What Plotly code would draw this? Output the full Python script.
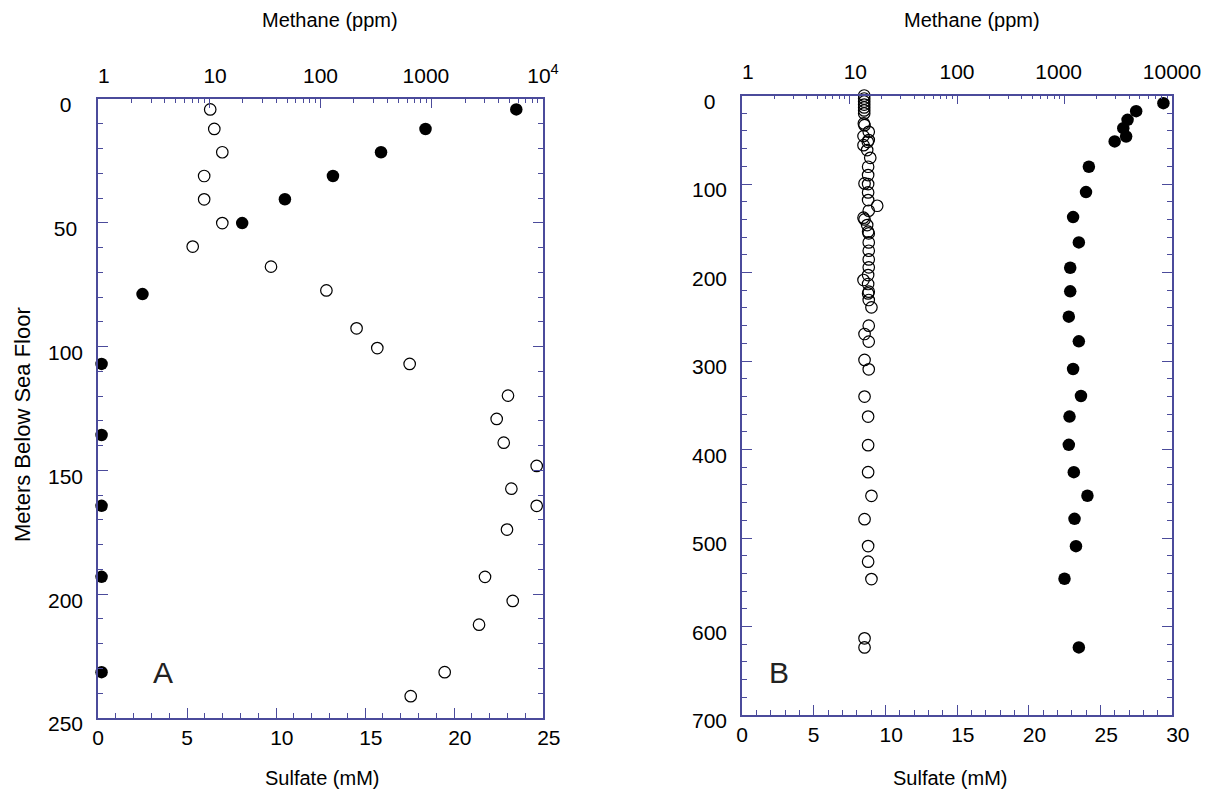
import plotly.graph_objects as go

# ---------------- Data: Panel A ----------------
a_sulfate_depth = [4.2, 12.1, 21.5, 31.1, 40.5, 50.1, 78.8, 107.0, 135.7, 164.3, 193.0, 231.5]
a_sulfate = [23.5, 18.4, 15.9, 13.2, 10.5, 8.1, 2.5, 0.2, 0.2, 0.2, 0.2, 0.2]

a_methane_depth = [4.2, 12.1, 21.5, 31.1, 40.5, 50.1, 59.6, 67.7, 77.3, 92.6, 100.6, 107.0,
                   119.8, 129.2, 138.8, 148.2, 157.4, 164.3, 173.9, 193.0, 202.7, 212.3, 231.5, 241.2]
a_methane = [10.2, 11.1, 13.1, 9.0, 9.0, 13.1, 7.1, 35.9, 113, 211, 324, 633,
             4845, 3834, 4436, 8776, 5196, 8776, 4746, 3011, 5346, 2661, 1307, 647]

# ---------------- Data: Panel B ----------------
b_sulfate_depth = [8.7, 17.7, 27.5, 36.9, 46.3, 51.9, 80.5, 109.1, 137.4, 166.0, 194.6, 221.3,
                   249.9, 277.8, 309.0, 339.5, 362.8, 394.7, 425.6, 452.3, 478.3, 509.2, 546.0, 623.6]
b_sulfate = [29.4, 27.5, 26.9, 26.6, 26.8, 26.0, 24.2, 24.0, 23.1, 23.5, 22.9, 22.9,
             22.8, 23.5, 23.1, 23.65, 22.85, 22.8, 23.15, 24.1, 23.2, 23.3, 22.5, 23.5]

b_methane_depth = [0.0, 3.4, 6.8, 10.2, 13.5, 16.9, 20.3, 31.6, 33.5, 41.0, 45.9, 50.4, 52.3,
                   56.1, 61.7, 70.4, 80.5, 89.9, 99.4, 100.1, 109.5, 118.2, 124.6, 130.2, 138.1,
                   140.0, 146.4, 153.9, 155.8, 166.0, 175.4, 185.2, 194.2, 202.9, 208.5, 213.0,
                   221.7, 223.6, 231.1, 239.4, 260.1, 269.5, 278.1, 298.8, 309.4, 340.2, 362.8,
                   395.1, 425.6, 452.3, 478.7, 509.1, 526.8, 546.4, 613.4, 623.6]
b_methane = [13.7, 13.7, 13.7, 13.7, 13.7, 13.7, 13.7, 13.6, 13.8, 15.1, 13.5, 15.1, 14.8,
             13.5, 14.6, 15.6, 14.9, 14.9, 13.8, 14.9, 14.9, 14.9, 18.1, 15.1, 13.5,
             13.8, 14.6, 14.9, 15.1, 15.1, 15.1, 15.1, 15.1, 14.9, 13.5, 14.9,
             15.1, 14.9, 15.1, 16.0, 15.1, 13.8, 15.1, 13.8, 15.1, 13.8, 14.9,
             14.9, 14.9, 16.0, 13.8, 14.9, 14.9, 16.0, 13.8, 13.8]

# ---------------- Tick labels ----------------
FS = "\u2007"   # figure space (digit width), used only to nudge label alignment
HS = "\u2008"   # punctuation space (about half a digit)
log_major = [1, 10, 100, 1000, 10000]
a_log_text = [FS + "1", FS + "10", "100", "1000" + FS, "10<sup>4</sup>"]
b_log_text = [FS + "1", FS + "10", "100", "1000" + FS, "10000"]
log_minor = [m * 10 ** e for e in range(4) for m in range(2, 10)]

a_sulf_ticks = [0, 5, 10, 15, 20, 25]
b_sulf_ticks = [0, 5, 10, 15, 20, 25, 30]
a_depth_ticks = [0, 50, 100, 150, 200, 250]
b_depth_ticks = [0, 100, 200, 300, 400, 500, 600, 700]


def sulf_text(v):
    return FS + str(v) if v >= 10 else str(v)


def depth_text(v):
    s = str(v)
    return s + {1: FS, 2: HS, 3: ""}[len(s)]


# ---------------- Styling / layout ----------------
PAGE_W, PAGE_H = 1226, 798
BODY = 8                      # default page margin around the plot div
W, H = PAGE_W - 2 * BODY, PAGE_H - 2 * BODY
AX = "#4b4b9b"
FONT = "Liberation Sans, Arial, Helvetica, sans-serif"
TICKFONT = dict(family=FONT, size=21, color="black")
TITLEFONT = dict(family=FONT, size=20, color="black")


def px_x(p):
    return (p - BODY) / W


def px_y(p):
    return 1 - (p - BODY) / H


A_X = [px_x(98), px_x(543)]
A_Y = [px_y(718), px_y(99)]
B_X = [px_x(742), px_x(1172)]
B_Y = [px_y(715), px_y(95.5)]

fig = go.Figure()

filled = dict(symbol="circle", size=12.5, color="black")
opened = dict(symbol="circle-open", size=11.5, color="black", line=dict(width=1.2, color="black"))

fig.add_trace(go.Scatter(x=a_sulfate, y=a_sulfate_depth, mode="markers", marker=filled,
                         xaxis="x", yaxis="y", cliponaxis=False, name="Sulfate A"))
fig.add_trace(go.Scatter(x=a_methane, y=a_methane_depth, mode="markers", marker=opened,
                         xaxis="x3", yaxis="y", cliponaxis=False, name="Methane A"))
fig.add_trace(go.Scatter(x=b_sulfate, y=b_sulfate_depth, mode="markers", marker=filled,
                         xaxis="x2", yaxis="y2", cliponaxis=False, name="Sulfate B"))
fig.add_trace(go.Scatter(x=b_methane, y=b_methane_depth, mode="markers", marker=opened,
                         xaxis="x4", yaxis="y2", cliponaxis=False, name="Methane B"))

common = dict(showline=True, linecolor=AX, linewidth=1.5, showgrid=False, zeroline=False,
              ticks="inside", tickcolor=AX, tickwidth=1.2, tickfont=TICKFONT, automargin=False)


def lin_x(domain, rng, anchor, ticks, minor):
    return dict(domain=domain, range=rng, anchor=anchor, side="bottom",
                tickmode="array", tickvals=ticks, ticktext=[sulf_text(v) for v in ticks],
                ticklen=10, ticklabelstandoff=0,
                minor=dict(dtick=minor, tick0=0, ticklen=5, ticks="inside", tickcolor=AX, tickwidth=1.2),
                **common)


def log_x(domain, anchor, over, text):
    return dict(domain=domain, type="log", range=[0, 4], anchor=anchor, overlaying=over, side="top",
                tickmode="array", tickvals=log_major, ticktext=text, ticklen=9, ticklabelstandoff=6,
                minor=dict(tickmode="array", tickvals=log_minor, ticklen=4, ticks="inside",
                           tickcolor=AX, tickwidth=1.2),
                **common)


def lin_y(domain, rng, anchor, ticks, minor, standoff):
    return dict(domain=domain, range=rng, anchor=anchor,
                tickmode="array", tickvals=ticks, ticktext=[depth_text(v) for v in ticks],
                ticklen=10, mirror="ticks", ticklabelstandoff=standoff, ticklabelshift=-6,
                minor=dict(dtick=minor, tick0=0, ticklen=5, ticks="inside", tickcolor=AX, tickwidth=1.2),
                **common)


fig.update_layout(
    width=W, height=H, margin=dict(l=0, r=0, t=0, b=0),
    paper_bgcolor="white", plot_bgcolor="white", showlegend=False,
    xaxis=lin_x(A_X, [0, 25], "y", a_sulf_ticks, 1),
    xaxis2=lin_x(B_X, [0, 30], "y2", b_sulf_ticks, 1),
    xaxis3=log_x(A_X, "y", "x", a_log_text),
    xaxis4=log_x(B_X, "y2", "x2", b_log_text),
    yaxis=lin_y(A_Y, [250, 0], "x", a_depth_ticks, 10, 9),
    yaxis2=lin_y(B_Y, [700, 0], "x2", b_depth_ticks, 20, 9),
)

annots = [
    ("Methane (ppm)", 330, 20, TITLEFONT, 0),
    ("Sulfate (mM)", 322, 778, TITLEFONT, 0),
    ("Methane (ppm)", 972, 20, TITLEFONT, 0),
    ("Sulfate (mM)", 950, 778, TITLEFONT, 0),
    ("Meters Below Sea Floor", 22, 425, dict(family=FONT, size=22, color="black"), -90),
    ("A", 163, 672, dict(family=FONT, size=30, color="#222222"), 0),
    ("B", 779, 672, dict(family=FONT, size=30, color="#222222"), 0),
]
for text, x, y, font, ang in annots:
    fig.add_annotation(text=text, x=px_x(x), y=px_y(y), xref="paper", yref="paper",
                       showarrow=False, font=font, textangle=ang,
                       xanchor="center", yanchor="middle")

fig.write_html("out.html")
